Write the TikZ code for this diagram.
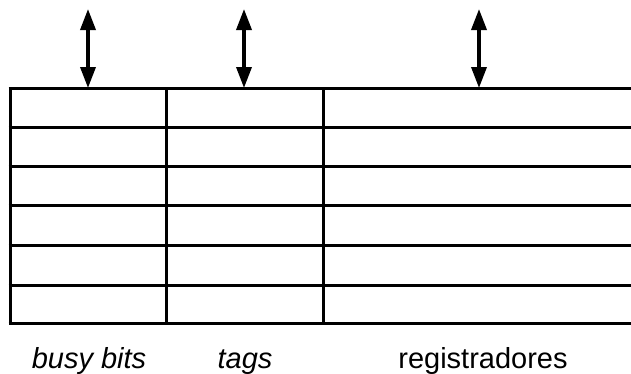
\documentclass[tikz,border=0pt]{standalone}
\usepackage{fontspec}
\setmainfont{Liberation Sans}
\usetikzlibrary{arrows.meta}
\begin{document}
\begin{tikzpicture}[x=1pt,y=-1pt,
  grid/.style={line width=3pt},
  bus/.style={line width=3.5pt,{Triangle[width=15pt,length=21pt]}-{Triangle[width=15pt,length=21pt]}},
  lbl/.style={anchor=base,font=\fontsize{29}{30}\selectfont,inner sep=0pt}]
\useasboundingbox (0,0) rectangle (631,373);
% corners and column positions
\coordinate (tl) at (10,88);
\coordinate (bl) at (10,323);
\coordinate (c1t) at (166,88);
\coordinate (c1b) at (166,323);
\coordinate (c2t) at (323,88);
\coordinate (c2b) at (323,323);
% horizontal lines
\foreach \y [count=\i] in {88,127,166,205,245,285,323}{
  \coordinate (l\i) at (8.5,\y);
  \coordinate (r\i) at (631,\y);
  \draw[grid] (l\i) -- (r\i);
}
% vertical lines
\draw[grid] (tl) -- (bl);
\draw[grid] (c1t) -- (c1b);
\draw[grid] (c2t) -- (c2b);
% arrows
\coordinate (a1t) at (88,9);  \coordinate (a1b) at (88,88);
\coordinate (a2t) at (244,9); \coordinate (a2b) at (244,88);
\coordinate (a3t) at (479,9); \coordinate (a3b) at (479,88);
\draw[bus] (a1t) -- (a1b);
\draw[bus] (a2t) -- (a2b);
\draw[bus] (a3t) -- (a3b);
% labels
\node[lbl] (busy) at (89,368) {\itshape busy bits};
\node[lbl] (tags) at (245,368) {\itshape tags};
\node[lbl] (regs) at (483,368) {registradores};
\end{tikzpicture}
\end{document}
